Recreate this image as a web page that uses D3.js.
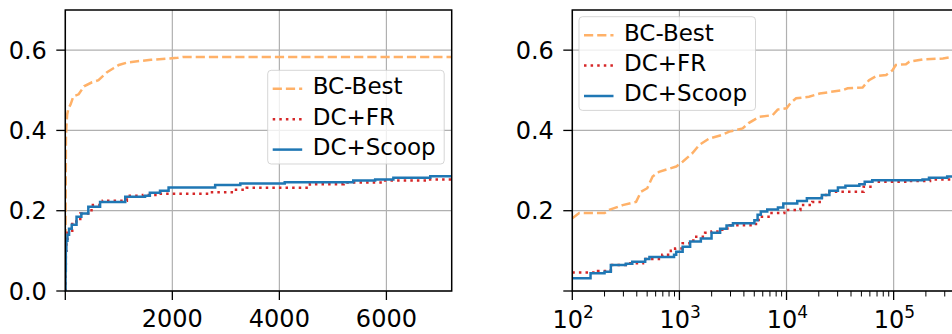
<!DOCTYPE html>
<html><head><meta charset="utf-8">
<script src="https://cdn.jsdelivr.net/npm/d3@7"></script>
<style>body{margin:0;background:#fff}svg{display:block}text{font-family:"DejaVu Sans",sans-serif;fill:#000}</style>
</head><body><svg id="c" width="952" height="334"></svg>
<script>
// ---------- data ----------
const seriesNames = ["BC-Best", "DC+FR", "DC+Scoop"];
const yTicks = [0, 0.2, 0.4, 0.6];
const leftYTickLabels = ["0.0", "0.2", "0.4", "0.6"];
const rightYTickLabels = ["", "0.2", "0.4", "0.6"];
const leftXTicks = [0, 2000, 4000, 6000];
const leftXTickLabels = ["", "2000", "4000", "6000"];
const rightXTicks = [100, 1000, 10000, 100000];
const rightXTickExp = ["2", "3", "4", "5"];

// left panel (linear x)
const leftBestX = [0, 12, 20, 35, 60, 100, 150, 250, 350, 500, 620, 780, 900, 1000, 1150, 1400, 1600, 1900, 2100, 2200, 7220];
const leftBestY = [0, 0.38, 0.41, 0.44, 0.455, 0.465, 0.485, 0.49, 0.51, 0.52, 0.525, 0.545, 0.555, 0.563, 0.569, 0.573, 0.576, 0.579, 0.581, 0.583, 0.583];
const leftFRX = [0, 5, 10, 20, 40, 60, 130, 280, 490, 700, 1150, 1450, 1750, 2700, 3140, 3390, 4570, 5200, 5940, 6750, 7220];
const leftFRY = [0, 0.06, 0.10, 0.13, 0.145, 0.15, 0.173, 0.193, 0.214, 0.225, 0.237, 0.239, 0.242, 0.246, 0.252, 0.257, 0.266, 0.270, 0.275, 0.278, 0.278];
const leftScoopX = [0, 5, 10, 20, 40, 70, 120, 210, 300, 430, 650, 1120, 1490, 1580, 1770, 1930, 2800, 3270, 4100, 5380, 5790, 6130, 6820, 7220];
const leftScoopY = [0, 0.05, 0.10, 0.125, 0.14, 0.155, 0.165, 0.185, 0.193, 0.21, 0.222, 0.235, 0.237, 0.245, 0.25, 0.258, 0.264, 0.268, 0.271, 0.275, 0.278, 0.282, 0.286, 0.286];

// right panel (log x)
const rightBestX = [100, 116, 200, 221, 295, 394, 437, 501, 562, 646, 933, 1072, 1318, 1535, 1905, 2512, 2924, 3890, 4467, 5572, 7413, 8260, 10000, 10965, 12300, 16200, 20400, 33100, 37200, 51300, 58900, 68400, 85100, 97700, 104700, 130300, 140300, 186200, 288400, 350800, 405000];
const rightBestY = [0.181, 0.194, 0.194, 0.202, 0.214, 0.222, 0.247, 0.256, 0.285, 0.297, 0.310, 0.322, 0.343, 0.364, 0.380, 0.389, 0.397, 0.405, 0.419, 0.434, 0.438, 0.452, 0.455, 0.469, 0.480, 0.484, 0.492, 0.500, 0.505, 0.507, 0.525, 0.535, 0.538, 0.550, 0.563, 0.565, 0.571, 0.577, 0.579, 0.583, 0.583];
const rightFRX = [100, 174, 229, 316, 457, 692, 832, 912, 1072, 1349, 1738, 1995, 2512, 2951, 5012, 5495, 7244, 9550, 13490, 17378, 21380, 25119, 52481, 63096, 141254, 218776, 405000];
const rightFRY = [0.046, 0.050, 0.065, 0.069, 0.080, 0.090, 0.100, 0.106, 0.119, 0.135, 0.145, 0.148, 0.156, 0.164, 0.167, 0.185, 0.194, 0.202, 0.214, 0.222, 0.239, 0.247, 0.260, 0.272, 0.274, 0.278, 0.280];
const rightScoopX = [100, 148, 200, 229, 316, 363, 479, 525, 891, 933, 1072, 1259, 1585, 1995, 2399, 2754, 3162, 5012, 5370, 5754, 6607, 8318, 9333, 12589, 15488, 21380, 25119, 30200, 35481, 47863, 53703, 63096, 186209, 213796, 316228, 405000];
const rightScoopY = [0.032, 0.044, 0.048, 0.065, 0.068, 0.073, 0.080, 0.085, 0.090, 0.098, 0.110, 0.123, 0.131, 0.145, 0.155, 0.163, 0.169, 0.176, 0.190, 0.198, 0.203, 0.208, 0.218, 0.224, 0.231, 0.239, 0.250, 0.258, 0.262, 0.266, 0.272, 0.276, 0.278, 0.282, 0.285, 0.285];

// ---------- styles ----------
const colors = {"BC-Best": "#ffb168", "DC+FR": "#d62728", "DC+Scoop": "#1f77b4"};
const dashes = {"BC-Best": "9.2,4", "DC+FR": "2.5,4.1", "DC+Scoop": null};
const curves = {"BC-Best": d3.curveLinear, "DC+FR": d3.curveStepAfter, "DC+Scoop": d3.curveStepAfter};
const LW = 2.5;

const svg = d3.select("#c");
const plotTop = 10, plotBottom = 291;
const y = d3.scaleLinear().domain([0, 0.7]).range([plotBottom, plotTop]);

function zip(xs, ys) { return xs.map((v, i) => [v, ys[i]]); }

function panel(opts) {
  const {x, x0, x1, id, series, xTicks, xLabelFn, yLabels, minor, legendPos} = opts;
  const g = svg.append("g");
  g.append("clipPath").attr("id", id).append("rect")
    .attr("x", x0).attr("y", plotTop).attr("width", x1 - x0).attr("height", plotBottom - plotTop);

  // grid
  const grid = g.append("g").attr("stroke", "#b0b0b0").attr("stroke-width", 1.2);
  xTicks.forEach(t => grid.append("line").attr("x1", x(t)).attr("x2", x(t)).attr("y1", plotTop).attr("y2", plotBottom));
  yTicks.forEach(t => grid.append("line").attr("x1", x0).attr("x2", x1).attr("y1", y(t)).attr("y2", y(t)));

  // lines
  const lg = g.append("g").attr("clip-path", `url(#${id})`);
  series.forEach(s => {
    const line = d3.line().x(d => x(d[0])).y(d => y(d[1])).curve(curves[s.name]);
    lg.append("path").attr("d", line(zip(s.xs, s.ys)))
      .attr("fill", "none").attr("stroke", colors[s.name]).attr("stroke-width", LW)
      .attr("stroke-dasharray", dashes[s.name]).attr("stroke-linecap", s.name === "DC+Scoop" ? "square" : "butt");
  });

  // axes
  const ax = g.append("g").attr("stroke", "#000");
  yTicks.forEach((t, i) => {
    ax.append("line").attr("x1", x0 - 9).attr("x2", x0).attr("y1", y(t)).attr("y2", y(t)).attr("stroke-width", 1.3);
    if (yLabels[i]) g.append("text").attr("x", x0 - 18.5).attr("y", y(t) + 8.7)
      .attr("text-anchor", "end").attr("font-size", 24).text(yLabels[i]);
  });
  xTicks.forEach((t, i) => {
    ax.append("line").attr("x1", x(t)).attr("x2", x(t)).attr("y1", plotBottom).attr("y2", plotBottom + 9).attr("stroke-width", 1.3);
    xLabelFn(g, x(t), i);
  });
  if (minor) {
    minor.forEach(t => {
      if (x(t) > x0 && x(t) < 952)
        ax.append("line").attr("x1", x(t)).attr("x2", x(t)).attr("y1", plotBottom).attr("y2", plotBottom + 5.5).attr("stroke-width", 1);
    });
  }
  ax.append("rect").attr("x", x0).attr("y", plotTop).attr("width", x1 - x0).attr("height", plotBottom - plotTop)
    .attr("fill", "none").attr("stroke-width", 1.5);

  // legend
  const [lx, ly] = legendPos;
  const leg = g.append("g");
  leg.append("rect").attr("x", lx).attr("y", ly).attr("width", 176.5).attr("height", 93.7).attr("rx", 3.5)
    .attr("fill", "#fff").attr("fill-opacity", 0.8).attr("stroke", "#cccccc").attr("stroke-opacity", 0.8).attr("stroke-width", 1);
  seriesNames.forEach((n, i) => {
    const hy = ly + 18.5 + i * 30.4;
    leg.append("line").attr("x1", lx + 5).attr("x2", lx + 34.5).attr("y1", hy).attr("y2", hy)
      .attr("stroke", colors[n]).attr("stroke-width", LW).attr("stroke-dasharray", dashes[n]);
    leg.append("text").attr("x", lx + 45).attr("y", ly + 23.9 + i * 30.4).attr("font-size", 23).text(n);
  });
}

// left panel
const xl = d3.scaleLinear().domain([0, 7220]).range([65.3, 451.7]);
panel({
  x: xl, x0: 65.3, x1: 451.7, id: "clipL",
  series: [
    {name: "BC-Best", xs: leftBestX, ys: leftBestY},
    {name: "DC+FR", xs: leftFRX, ys: leftFRY},
    {name: "DC+Scoop", xs: leftScoopX, ys: leftScoopY}
  ],
  xTicks: leftXTicks,
  xLabelFn: (g, px, i) => {
    if (leftXTickLabels[i]) g.append("text").attr("x", px).attr("y", 326.7).attr("text-anchor", "middle")
      .attr("font-size", 24).text(leftXTickLabels[i]);
  },
  yLabels: leftYTickLabels,
  minor: null,
  legendPos: [267.7, 70.3]
});

// right panel
const xr = d3.scaleLog().domain([100, 405000]).range([572.3, 958.7]);
const minorTicks = [];
[100, 1000, 10000, 100000].forEach(d => { for (let k = 2; k <= 9; k++) minorTicks.push(d * k); });
panel({
  x: xr, x0: 572.3, x1: 958.7, id: "clipR",
  series: [
    {name: "BC-Best", xs: rightBestX, ys: rightBestY},
    {name: "DC+FR", xs: rightFRX, ys: rightFRY},
    {name: "DC+Scoop", xs: rightScoopX, ys: rightScoopY}
  ],
  xTicks: rightXTicks,
  xLabelFn: (g, px, i) => {
    const t = g.append("text").attr("x", px + 0.8).attr("y", 327.5).attr("text-anchor", "middle").attr("font-size", 24);
    t.append("tspan").text("10");
    t.append("tspan").attr("font-size", 17).attr("dy", -9.5).text(rightXTickExp[i]);
  },
  yLabels: rightYTickLabels,
  minor: minorTicks,
  legendPos: [579, 16.7]
});
</script></body></html>
